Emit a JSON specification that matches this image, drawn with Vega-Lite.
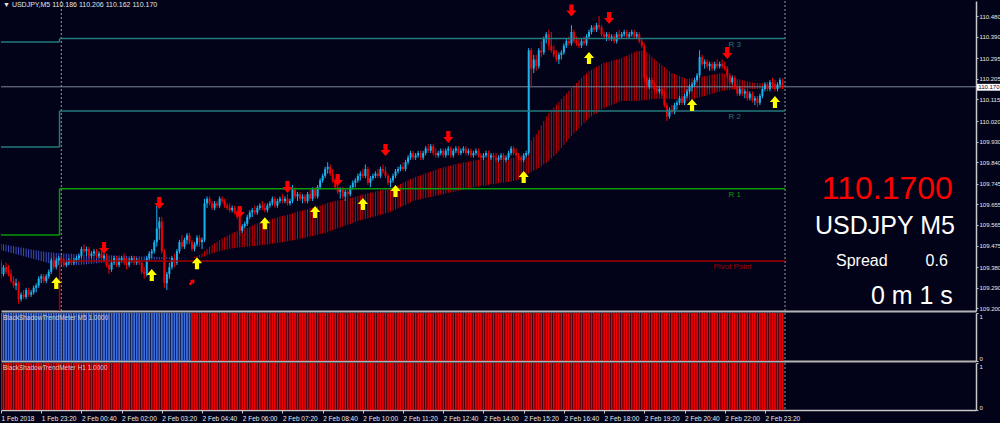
{
"$schema":"https://vega.github.io/schema/vega-lite/v6.json",
"background":"#020218",
"padding":{"left":0,"top":0,"right":0,"bottom":2},
"bounds":"flush",
"spacing":2,
"config":{"view":{"stroke":null},"font":"Liberation Sans","axis":{"labelColor":"#e8e8e8","tickColor":"#c8c8c8","domainColor":"#c8c8c8","labelFont":"Liberation Sans","labelFontSize":6,"grid":false,"labelOverlap":false}},
"datasets":{
"b":[
{"i":0,"o":109.4,"h":109.415,"l":109.33,"c":109.35,"f":109.455,"s":109.482},
{"i":1,"o":109.35,"h":109.39,"l":109.34,"c":109.38,"f":109.452,"s":109.48},
{"i":2,"o":109.38,"h":109.4,"l":109.35,"c":109.36,"f":109.449,"s":109.478},
{"i":3,"o":109.36,"h":109.39,"l":109.34,"c":109.35,"f":109.446,"s":109.476},
{"i":4,"o":109.35,"h":109.37,"l":109.31,"c":109.32,"f":109.443,"s":109.474},
{"i":5,"o":109.32,"h":109.34,"l":109.29,"c":109.3,"f":109.44,"s":109.472},
{"i":6,"o":109.3,"h":109.33,"l":109.28,"c":109.31,"f":109.437,"s":109.47},
{"i":7,"o":109.31,"h":109.32,"l":109.22,"c":109.24,"f":109.434,"s":109.468},
{"i":8,"o":109.24,"h":109.27,"l":109.23,"c":109.26,"f":109.431,"s":109.466},
{"i":9,"o":109.26,"h":109.28,"l":109.24,"c":109.25,"f":109.428,"s":109.464},
{"i":10,"o":109.25,"h":109.29,"l":109.24,"c":109.28,"f":109.425,"s":109.462},
{"i":11,"o":109.28,"h":109.29,"l":109.25,"c":109.26,"f":109.422,"s":109.46},
{"i":12,"o":109.26,"h":109.28,"l":109.25,"c":109.27,"f":109.419,"s":109.458},
{"i":13,"o":109.27,"h":109.3,"l":109.26,"c":109.29,"f":109.416,"s":109.456},
{"i":14,"o":109.29,"h":109.31,"l":109.27,"c":109.3,"f":109.413,"s":109.454},
{"i":15,"o":109.3,"h":109.34,"l":109.29,"c":109.33,"f":109.41,"s":109.452},
{"i":16,"o":109.33,"h":109.35,"l":109.31,"c":109.34,"f":109.407,"s":109.45},
{"i":17,"o":109.34,"h":109.35,"l":109.31,"c":109.32,"f":109.404,"s":109.449},
{"i":18,"o":109.32,"h":109.35,"l":109.31,"c":109.34,"f":109.401,"s":109.447},
{"i":19,"o":109.34,"h":109.37,"l":109.33,"c":109.36,"f":109.398,"s":109.446},
{"i":20,"o":109.36,"h":109.42,"l":109.35,"c":109.41,"f":109.396,"s":109.445},
{"i":21,"o":109.41,"h":109.43,"l":109.37,"c":109.38,"f":109.394,"s":109.444},
{"i":22,"o":109.38,"h":109.42,"l":109.37,"c":109.41,"f":109.392,"s":109.443},
{"i":23,"o":109.41,"h":109.43,"l":109.39,"c":109.42,"f":109.39,"s":109.442},
{"i":24,"o":109.42,"h":109.43,"l":109.39,"c":109.4,"f":109.389,"s":109.441},
{"i":25,"o":109.4,"h":109.42,"l":109.38,"c":109.39,"f":109.388,"s":109.44},
{"i":26,"o":109.39,"h":109.41,"l":109.38,"c":109.4,"f":109.388,"s":109.44},
{"i":27,"o":109.4,"h":109.42,"l":109.39,"c":109.41,"f":109.388,"s":109.439},
{"i":28,"o":109.41,"h":109.42,"l":109.39,"c":109.4,"f":109.389,"s":109.439},
{"i":29,"o":109.4,"h":109.42,"l":109.39,"c":109.41,"f":109.389,"s":109.438},
{"i":30,"o":109.41,"h":109.43,"l":109.4,"c":109.42,"f":109.39,"s":109.437},
{"i":31,"o":109.42,"h":109.44,"l":109.41,"c":109.43,"f":109.39,"s":109.437},
{"i":32,"o":109.43,"h":109.47,"l":109.42,"c":109.46,"f":109.391,"s":109.436},
{"i":33,"o":109.46,"h":109.48,"l":109.44,"c":109.45,"f":109.392,"s":109.436},
{"i":34,"o":109.45,"h":109.47,"l":109.43,"c":109.46,"f":109.393,"s":109.435},
{"i":35,"o":109.46,"h":109.47,"l":109.42,"c":109.43,"f":109.394,"s":109.435},
{"i":36,"o":109.43,"h":109.45,"l":109.42,"c":109.44,"f":109.395,"s":109.435},
{"i":37,"o":109.44,"h":109.46,"l":109.43,"c":109.45,"f":109.396,"s":109.434},
{"i":38,"o":109.45,"h":109.46,"l":109.42,"c":109.43,"f":109.397,"s":109.434},
{"i":39,"o":109.43,"h":109.45,"l":109.42,"c":109.44,"f":109.398,"s":109.433},
{"i":40,"o":109.44,"h":109.45,"l":109.4,"c":109.42,"f":109.399,"s":109.433},
{"i":41,"o":109.42,"h":109.44,"l":109.41,"c":109.43,"f":109.4,"s":109.433},
{"i":42,"o":109.43,"h":109.44,"l":109.38,"c":109.39,"f":109.401,"s":109.432},
{"i":43,"o":109.39,"h":109.4,"l":109.35,"c":109.37,"f":109.402,"s":109.432},
{"i":44,"o":109.37,"h":109.41,"l":109.36,"c":109.4,"f":109.403,"s":109.432},
{"i":45,"o":109.4,"h":109.43,"l":109.39,"c":109.42,"f":109.404,"s":109.431},
{"i":46,"o":109.42,"h":109.43,"l":109.38,"c":109.39,"f":109.405,"s":109.431},
{"i":47,"o":109.39,"h":109.42,"l":109.38,"c":109.41,"f":109.406,"s":109.431},
{"i":48,"o":109.41,"h":109.43,"l":109.4,"c":109.42,"f":109.406,"s":109.43},
{"i":49,"o":109.42,"h":109.44,"l":109.39,"c":109.4,"f":109.407,"s":109.43},
{"i":50,"o":109.4,"h":109.42,"l":109.37,"c":109.39,"f":109.408,"s":109.43},
{"i":51,"o":109.39,"h":109.42,"l":109.38,"c":109.41,"f":109.408,"s":109.429},
{"i":52,"o":109.41,"h":109.43,"l":109.4,"c":109.42,"f":109.409,"s":109.429},
{"i":53,"o":109.42,"h":109.43,"l":109.39,"c":109.4,"f":109.409,"s":109.428},
{"i":54,"o":109.4,"h":109.42,"l":109.39,"c":109.41,"f":109.41,"s":109.428},
{"i":55,"o":109.41,"h":109.42,"l":109.39,"c":109.4,"f":109.41,"s":109.428},
{"i":56,"o":109.4,"h":109.41,"l":109.35,"c":109.36,"f":109.411,"s":109.427},
{"i":57,"o":109.36,"h":109.38,"l":109.33,"c":109.35,"f":109.411,"s":109.427},
{"i":58,"o":109.35,"h":109.43,"l":109.34,"c":109.42,"f":109.412,"s":109.426},
{"i":59,"o":109.42,"h":109.45,"l":109.41,"c":109.44,"f":109.412,"s":109.426},
{"i":60,"o":109.44,"h":109.46,"l":109.42,"c":109.45,"f":109.413,"s":109.426},
{"i":61,"o":109.45,"h":109.5,"l":109.44,"c":109.49,"f":109.413,"s":109.425},
{"i":62,"o":109.49,"h":109.65,"l":109.47,"c":109.55,"f":109.414,"s":109.425},
{"i":63,"o":109.55,"h":109.6,"l":109.5,"c":109.58,"f":109.414,"s":109.425},
{"i":64,"o":109.58,"h":109.6,"l":109.44,"c":109.45,"f":109.415,"s":109.424},
{"i":65,"o":109.45,"h":109.46,"l":109.29,"c":109.31,"f":109.415,"s":109.424},
{"i":66,"o":109.31,"h":109.36,"l":109.28,"c":109.35,"f":109.416,"s":109.424},
{"i":67,"o":109.35,"h":109.4,"l":109.33,"c":109.38,"f":109.416,"s":109.423},
{"i":68,"o":109.38,"h":109.43,"l":109.37,"c":109.42,"f":109.417,"s":109.423},
{"i":69,"o":109.42,"h":109.44,"l":109.38,"c":109.4,"f":109.417,"s":109.423},
{"i":70,"o":109.4,"h":109.46,"l":109.39,"c":109.45,"f":109.418,"s":109.422},
{"i":71,"o":109.45,"h":109.5,"l":109.44,"c":109.49,"f":109.418,"s":109.422},
{"i":72,"o":109.49,"h":109.52,"l":109.46,"c":109.47,"f":109.419,"s":109.422},
{"i":73,"o":109.47,"h":109.51,"l":109.46,"c":109.5,"f":109.419,"s":109.421},
{"i":74,"o":109.5,"h":109.53,"l":109.48,"c":109.52,"f":109.42,"s":109.421},
{"i":75,"o":109.52,"h":109.53,"l":109.48,"c":109.49,"f":109.42,"s":109.421},
{"i":76,"o":109.49,"h":109.5,"l":109.45,"c":109.46,"f":109.422,"s":109.42},
{"i":77,"o":109.46,"h":109.49,"l":109.45,"c":109.48,"f":109.426,"s":109.421},
{"i":78,"o":109.48,"h":109.52,"l":109.47,"c":109.51,"f":109.43,"s":109.422},
{"i":79,"o":109.51,"h":109.52,"l":109.47,"c":109.49,"f":109.434,"s":109.423},
{"i":80,"o":109.49,"h":109.51,"l":109.46,"c":109.5,"f":109.44,"s":109.424},
{"i":81,"o":109.5,"h":109.68,"l":109.49,"c":109.66,"f":109.45,"s":109.428},
{"i":82,"o":109.66,"h":109.69,"l":109.64,"c":109.68,"f":109.46,"s":109.432},
{"i":83,"o":109.68,"h":109.69,"l":109.65,"c":109.66,"f":109.469,"s":109.436},
{"i":84,"o":109.66,"h":109.67,"l":109.63,"c":109.64,"f":109.477,"s":109.44},
{"i":85,"o":109.64,"h":109.67,"l":109.63,"c":109.66,"f":109.485,"s":109.444},
{"i":86,"o":109.66,"h":109.67,"l":109.64,"c":109.65,"f":109.492,"s":109.447},
{"i":87,"o":109.65,"h":109.69,"l":109.64,"c":109.68,"f":109.499,"s":109.45},
{"i":88,"o":109.68,"h":109.69,"l":109.66,"c":109.67,"f":109.506,"s":109.453},
{"i":89,"o":109.67,"h":109.68,"l":109.64,"c":109.65,"f":109.512,"s":109.456},
{"i":90,"o":109.65,"h":109.66,"l":109.63,"c":109.64,"f":109.518,"s":109.458},
{"i":91,"o":109.64,"h":109.66,"l":109.62,"c":109.63,"f":109.524,"s":109.46},
{"i":92,"o":109.63,"h":109.65,"l":109.62,"c":109.64,"f":109.529,"s":109.462},
{"i":93,"o":109.64,"h":109.65,"l":109.61,"c":109.62,"f":109.534,"s":109.464},
{"i":94,"o":109.62,"h":109.63,"l":109.59,"c":109.6,"f":109.538,"s":109.466},
{"i":95,"o":109.6,"h":109.61,"l":109.52,"c":109.54,"f":109.541,"s":109.467},
{"i":96,"o":109.54,"h":109.57,"l":109.53,"c":109.56,"f":109.544,"s":109.468},
{"i":97,"o":109.56,"h":109.58,"l":109.55,"c":109.57,"f":109.548,"s":109.469},
{"i":98,"o":109.57,"h":109.61,"l":109.56,"c":109.6,"f":109.552,"s":109.47},
{"i":99,"o":109.6,"h":109.63,"l":109.59,"c":109.62,"f":109.557,"s":109.471},
{"i":100,"o":109.62,"h":109.64,"l":109.6,"c":109.63,"f":109.562,"s":109.472},
{"i":101,"o":109.63,"h":109.65,"l":109.61,"c":109.62,"f":109.567,"s":109.473},
{"i":102,"o":109.62,"h":109.65,"l":109.61,"c":109.64,"f":109.572,"s":109.474},
{"i":103,"o":109.64,"h":109.66,"l":109.63,"c":109.65,"f":109.576,"s":109.475},
{"i":104,"o":109.65,"h":109.67,"l":109.63,"c":109.64,"f":109.58,"s":109.477},
{"i":105,"o":109.64,"h":109.66,"l":109.62,"c":109.63,"f":109.583,"s":109.478},
{"i":106,"o":109.63,"h":109.66,"l":109.62,"c":109.65,"f":109.586,"s":109.48},
{"i":107,"o":109.65,"h":109.67,"l":109.64,"c":109.66,"f":109.589,"s":109.481},
{"i":108,"o":109.66,"h":109.69,"l":109.65,"c":109.68,"f":109.592,"s":109.483},
{"i":109,"o":109.68,"h":109.69,"l":109.64,"c":109.65,"f":109.595,"s":109.484},
{"i":110,"o":109.65,"h":109.68,"l":109.64,"c":109.67,"f":109.598,"s":109.486},
{"i":111,"o":109.67,"h":109.69,"l":109.66,"c":109.68,"f":109.601,"s":109.488},
{"i":112,"o":109.68,"h":109.7,"l":109.66,"c":109.67,"f":109.604,"s":109.489},
{"i":113,"o":109.67,"h":109.69,"l":109.66,"c":109.68,"f":109.607,"s":109.491},
{"i":114,"o":109.68,"h":109.7,"l":109.65,"c":109.66,"f":109.61,"s":109.493},
{"i":115,"o":109.66,"h":109.68,"l":109.65,"c":109.67,"f":109.613,"s":109.495},
{"i":116,"o":109.67,"h":109.74,"l":109.66,"c":109.72,"f":109.617,"s":109.497},
{"i":117,"o":109.72,"h":109.73,"l":109.68,"c":109.69,"f":109.62,"s":109.499},
{"i":118,"o":109.69,"h":109.71,"l":109.67,"c":109.7,"f":109.623,"s":109.502},
{"i":119,"o":109.7,"h":109.71,"l":109.67,"c":109.68,"f":109.626,"s":109.504},
{"i":120,"o":109.68,"h":109.7,"l":109.66,"c":109.69,"f":109.629,"s":109.507},
{"i":121,"o":109.69,"h":109.7,"l":109.66,"c":109.67,"f":109.632,"s":109.509},
{"i":122,"o":109.67,"h":109.71,"l":109.66,"c":109.7,"f":109.635,"s":109.512},
{"i":123,"o":109.7,"h":109.72,"l":109.67,"c":109.68,"f":109.638,"s":109.514},
{"i":124,"o":109.68,"h":109.73,"l":109.67,"c":109.72,"f":109.641,"s":109.517},
{"i":125,"o":109.72,"h":109.73,"l":109.68,"c":109.69,"f":109.644,"s":109.52},
{"i":126,"o":109.69,"h":109.74,"l":109.68,"c":109.73,"f":109.647,"s":109.522},
{"i":127,"o":109.73,"h":109.77,"l":109.72,"c":109.76,"f":109.65,"s":109.525},
{"i":128,"o":109.76,"h":109.79,"l":109.75,"c":109.78,"f":109.653,"s":109.527},
{"i":129,"o":109.78,"h":109.82,"l":109.77,"c":109.81,"f":109.657,"s":109.53},
{"i":130,"o":109.81,"h":109.84,"l":109.79,"c":109.82,"f":109.661,"s":109.534},
{"i":131,"o":109.82,"h":109.83,"l":109.78,"c":109.79,"f":109.665,"s":109.538},
{"i":132,"o":109.79,"h":109.81,"l":109.75,"c":109.76,"f":109.668,"s":109.542},
{"i":133,"o":109.76,"h":109.77,"l":109.72,"c":109.73,"f":109.67,"s":109.546},
{"i":134,"o":109.73,"h":109.74,"l":109.7,"c":109.71,"f":109.672,"s":109.55},
{"i":135,"o":109.71,"h":109.73,"l":109.68,"c":109.72,"f":109.674,"s":109.554},
{"i":136,"o":109.72,"h":109.73,"l":109.68,"c":109.69,"f":109.676,"s":109.558},
{"i":137,"o":109.69,"h":109.72,"l":109.67,"c":109.71,"f":109.678,"s":109.562},
{"i":138,"o":109.71,"h":109.72,"l":109.68,"c":109.7,"f":109.68,"s":109.566},
{"i":139,"o":109.7,"h":109.74,"l":109.69,"c":109.73,"f":109.683,"s":109.57},
{"i":140,"o":109.73,"h":109.76,"l":109.72,"c":109.75,"f":109.686,"s":109.574},
{"i":141,"o":109.75,"h":109.77,"l":109.73,"c":109.76,"f":109.689,"s":109.578},
{"i":142,"o":109.76,"h":109.79,"l":109.75,"c":109.78,"f":109.692,"s":109.582},
{"i":143,"o":109.78,"h":109.8,"l":109.76,"c":109.79,"f":109.695,"s":109.585},
{"i":144,"o":109.79,"h":109.81,"l":109.77,"c":109.78,"f":109.698,"s":109.588},
{"i":145,"o":109.78,"h":109.83,"l":109.77,"c":109.81,"f":109.701,"s":109.591},
{"i":146,"o":109.81,"h":109.82,"l":109.74,"c":109.75,"f":109.704,"s":109.594},
{"i":147,"o":109.75,"h":109.78,"l":109.73,"c":109.77,"f":109.706,"s":109.597},
{"i":148,"o":109.77,"h":109.79,"l":109.76,"c":109.78,"f":109.708,"s":109.6},
{"i":149,"o":109.78,"h":109.8,"l":109.77,"c":109.79,"f":109.711,"s":109.603},
{"i":150,"o":109.79,"h":109.81,"l":109.77,"c":109.78,"f":109.714,"s":109.606},
{"i":151,"o":109.78,"h":109.82,"l":109.77,"c":109.81,"f":109.717,"s":109.609},
{"i":152,"o":109.81,"h":109.83,"l":109.79,"c":109.8,"f":109.719,"s":109.612},
{"i":153,"o":109.8,"h":109.82,"l":109.77,"c":109.78,"f":109.721,"s":109.615},
{"i":154,"o":109.78,"h":109.79,"l":109.74,"c":109.75,"f":109.723,"s":109.618},
{"i":155,"o":109.75,"h":109.77,"l":109.73,"c":109.76,"f":109.726,"s":109.623},
{"i":156,"o":109.76,"h":109.79,"l":109.75,"c":109.78,"f":109.73,"s":109.628},
{"i":157,"o":109.78,"h":109.81,"l":109.77,"c":109.8,"f":109.735,"s":109.633},
{"i":158,"o":109.8,"h":109.82,"l":109.79,"c":109.81,"f":109.74,"s":109.638},
{"i":159,"o":109.81,"h":109.83,"l":109.8,"c":109.82,"f":109.745,"s":109.643},
{"i":160,"o":109.82,"h":109.84,"l":109.8,"c":109.81,"f":109.75,"s":109.648},
{"i":161,"o":109.81,"h":109.85,"l":109.8,"c":109.84,"f":109.755,"s":109.653},
{"i":162,"o":109.84,"h":109.87,"l":109.83,"c":109.86,"f":109.76,"s":109.658},
{"i":163,"o":109.86,"h":109.89,"l":109.85,"c":109.88,"f":109.766,"s":109.664},
{"i":164,"o":109.88,"h":109.89,"l":109.85,"c":109.86,"f":109.771,"s":109.67},
{"i":165,"o":109.86,"h":109.88,"l":109.85,"c":109.87,"f":109.775,"s":109.673},
{"i":166,"o":109.87,"h":109.89,"l":109.86,"c":109.88,"f":109.779,"s":109.675},
{"i":167,"o":109.88,"h":109.89,"l":109.85,"c":109.86,"f":109.783,"s":109.678},
{"i":168,"o":109.86,"h":109.89,"l":109.85,"c":109.88,"f":109.787,"s":109.68},
{"i":169,"o":109.88,"h":109.91,"l":109.87,"c":109.9,"f":109.791,"s":109.683},
{"i":170,"o":109.9,"h":109.92,"l":109.88,"c":109.89,"f":109.795,"s":109.685},
{"i":171,"o":109.89,"h":109.92,"l":109.88,"c":109.91,"f":109.799,"s":109.688},
{"i":172,"o":109.91,"h":109.92,"l":109.87,"c":109.88,"f":109.803,"s":109.69},
{"i":173,"o":109.88,"h":109.9,"l":109.86,"c":109.87,"f":109.807,"s":109.693},
{"i":174,"o":109.87,"h":109.89,"l":109.86,"c":109.88,"f":109.811,"s":109.695},
{"i":175,"o":109.88,"h":109.9,"l":109.87,"c":109.89,"f":109.814,"s":109.698},
{"i":176,"o":109.89,"h":109.9,"l":109.86,"c":109.87,"f":109.817,"s":109.7},
{"i":177,"o":109.87,"h":109.9,"l":109.86,"c":109.89,"f":109.82,"s":109.703},
{"i":178,"o":109.89,"h":109.91,"l":109.87,"c":109.9,"f":109.823,"s":109.705},
{"i":179,"o":109.9,"h":109.91,"l":109.86,"c":109.87,"f":109.826,"s":109.708},
{"i":180,"o":109.87,"h":109.9,"l":109.86,"c":109.89,"f":109.829,"s":109.71},
{"i":181,"o":109.89,"h":109.91,"l":109.88,"c":109.9,"f":109.831,"s":109.712},
{"i":182,"o":109.9,"h":109.91,"l":109.87,"c":109.88,"f":109.834,"s":109.715},
{"i":183,"o":109.88,"h":109.9,"l":109.87,"c":109.89,"f":109.836,"s":109.717},
{"i":184,"o":109.89,"h":109.91,"l":109.88,"c":109.9,"f":109.839,"s":109.719},
{"i":185,"o":109.9,"h":109.91,"l":109.87,"c":109.88,"f":109.841,"s":109.722},
{"i":186,"o":109.88,"h":109.9,"l":109.87,"c":109.89,"f":109.843,"s":109.724},
{"i":187,"o":109.89,"h":109.9,"l":109.86,"c":109.87,"f":109.845,"s":109.726},
{"i":188,"o":109.87,"h":109.89,"l":109.86,"c":109.88,"f":109.847,"s":109.729},
{"i":189,"o":109.88,"h":109.9,"l":109.87,"c":109.89,"f":109.849,"s":109.731},
{"i":190,"o":109.89,"h":109.9,"l":109.86,"c":109.87,"f":109.851,"s":109.733},
{"i":191,"o":109.87,"h":109.88,"l":109.85,"c":109.86,"f":109.853,"s":109.736},
{"i":192,"o":109.86,"h":109.88,"l":109.85,"c":109.87,"f":109.854,"s":109.738},
{"i":193,"o":109.87,"h":109.89,"l":109.86,"c":109.88,"f":109.855,"s":109.739},
{"i":194,"o":109.88,"h":109.89,"l":109.85,"c":109.86,"f":109.855,"s":109.741},
{"i":195,"o":109.86,"h":109.88,"l":109.85,"c":109.87,"f":109.856,"s":109.743},
{"i":196,"o":109.87,"h":109.88,"l":109.85,"c":109.86,"f":109.856,"s":109.744},
{"i":197,"o":109.86,"h":109.88,"l":109.84,"c":109.85,"f":109.856,"s":109.746},
{"i":198,"o":109.85,"h":109.87,"l":109.84,"c":109.86,"f":109.857,"s":109.748},
{"i":199,"o":109.86,"h":109.88,"l":109.85,"c":109.87,"f":109.857,"s":109.749},
{"i":200,"o":109.87,"h":109.88,"l":109.84,"c":109.85,"f":109.857,"s":109.751},
{"i":201,"o":109.85,"h":109.87,"l":109.84,"c":109.86,"f":109.858,"s":109.752},
{"i":202,"o":109.86,"h":109.89,"l":109.85,"c":109.88,"f":109.858,"s":109.754},
{"i":203,"o":109.88,"h":109.91,"l":109.87,"c":109.9,"f":109.858,"s":109.755},
{"i":204,"o":109.9,"h":109.91,"l":109.87,"c":109.88,"f":109.859,"s":109.757},
{"i":205,"o":109.88,"h":109.9,"l":109.86,"c":109.87,"f":109.86,"s":109.76},
{"i":206,"o":109.87,"h":109.88,"l":109.85,"c":109.86,"f":109.861,"s":109.764},
{"i":207,"o":109.86,"h":109.87,"l":109.84,"c":109.85,"f":109.862,"s":109.768},
{"i":208,"o":109.85,"h":109.88,"l":109.84,"c":109.87,"f":109.863,"s":109.773},
{"i":209,"o":109.87,"h":109.89,"l":109.86,"c":109.88,"f":109.865,"s":109.78},
{"i":210,"o":109.88,"h":110.34,"l":109.87,"c":110.33,"f":109.905,"s":109.79},
{"i":211,"o":110.33,"h":110.34,"l":110.17,"c":110.25,"f":109.935,"s":109.798},
{"i":212,"o":110.25,"h":110.31,"l":110.23,"c":110.29,"f":109.95,"s":109.803},
{"i":213,"o":110.29,"h":110.31,"l":110.24,"c":110.26,"f":109.962,"s":109.808},
{"i":214,"o":110.26,"h":110.34,"l":110.25,"c":110.33,"f":109.98,"s":109.814},
{"i":215,"o":110.33,"h":110.37,"l":110.3,"c":110.32,"f":110.0,"s":109.822},
{"i":216,"o":110.32,"h":110.39,"l":110.31,"c":110.38,"f":110.02,"s":109.83},
{"i":217,"o":110.38,"h":110.41,"l":110.36,"c":110.4,"f":110.04,"s":109.838},
{"i":218,"o":110.4,"h":110.42,"l":110.33,"c":110.35,"f":110.055,"s":109.845},
{"i":219,"o":110.35,"h":110.41,"l":110.32,"c":110.33,"f":110.068,"s":109.856},
{"i":220,"o":110.33,"h":110.35,"l":110.3,"c":110.31,"f":110.08,"s":109.867},
{"i":221,"o":110.31,"h":110.33,"l":110.28,"c":110.29,"f":110.092,"s":109.878},
{"i":222,"o":110.29,"h":110.32,"l":110.27,"c":110.31,"f":110.104,"s":109.889},
{"i":223,"o":110.31,"h":110.33,"l":110.29,"c":110.32,"f":110.117,"s":109.902},
{"i":224,"o":110.32,"h":110.36,"l":110.31,"c":110.35,"f":110.129,"s":109.915},
{"i":225,"o":110.35,"h":110.38,"l":110.34,"c":110.37,"f":110.141,"s":109.928},
{"i":226,"o":110.37,"h":110.39,"l":110.35,"c":110.36,"f":110.153,"s":109.942},
{"i":227,"o":110.36,"h":110.44,"l":110.35,"c":110.41,"f":110.165,"s":109.955},
{"i":228,"o":110.41,"h":110.42,"l":110.36,"c":110.37,"f":110.176,"s":109.966},
{"i":229,"o":110.37,"h":110.39,"l":110.35,"c":110.36,"f":110.187,"s":109.977},
{"i":230,"o":110.36,"h":110.38,"l":110.34,"c":110.35,"f":110.198,"s":109.988},
{"i":231,"o":110.35,"h":110.38,"l":110.34,"c":110.37,"f":110.209,"s":109.999},
{"i":232,"o":110.37,"h":110.39,"l":110.35,"c":110.36,"f":110.219,"s":110.011},
{"i":233,"o":110.36,"h":110.4,"l":110.35,"c":110.39,"f":110.229,"s":110.022},
{"i":234,"o":110.39,"h":110.42,"l":110.38,"c":110.41,"f":110.239,"s":110.033},
{"i":235,"o":110.41,"h":110.44,"l":110.4,"c":110.43,"f":110.245,"s":110.04},
{"i":236,"o":110.43,"h":110.44,"l":110.41,"c":110.42,"f":110.251,"s":110.048},
{"i":237,"o":110.42,"h":110.45,"l":110.41,"c":110.44,"f":110.257,"s":110.055},
{"i":238,"o":110.44,"h":110.48,"l":110.42,"c":110.43,"f":110.263,"s":110.062},
{"i":239,"o":110.43,"h":110.44,"l":110.39,"c":110.4,"f":110.269,"s":110.07},
{"i":240,"o":110.4,"h":110.41,"l":110.38,"c":110.39,"f":110.274,"s":110.077},
{"i":241,"o":110.39,"h":110.41,"l":110.37,"c":110.4,"f":110.277,"s":110.081},
{"i":242,"o":110.4,"h":110.41,"l":110.37,"c":110.38,"f":110.28,"s":110.086},
{"i":243,"o":110.38,"h":110.4,"l":110.37,"c":110.39,"f":110.284,"s":110.09},
{"i":244,"o":110.39,"h":110.4,"l":110.36,"c":110.37,"f":110.287,"s":110.095},
{"i":245,"o":110.37,"h":110.41,"l":110.36,"c":110.4,"f":110.29,"s":110.099},
{"i":246,"o":110.4,"h":110.42,"l":110.38,"c":110.39,"f":110.293,"s":110.104},
{"i":247,"o":110.39,"h":110.41,"l":110.38,"c":110.4,"f":110.296,"s":110.108},
{"i":248,"o":110.4,"h":110.42,"l":110.39,"c":110.41,"f":110.301,"s":110.108},
{"i":249,"o":110.41,"h":110.42,"l":110.38,"c":110.39,"f":110.306,"s":110.108},
{"i":250,"o":110.39,"h":110.41,"l":110.38,"c":110.4,"f":110.311,"s":110.108},
{"i":251,"o":110.4,"h":110.42,"l":110.39,"c":110.41,"f":110.316,"s":110.108},
{"i":252,"o":110.41,"h":110.42,"l":110.38,"c":110.39,"f":110.322,"s":110.108},
{"i":253,"o":110.39,"h":110.41,"l":110.38,"c":110.4,"f":110.327,"s":110.108},
{"i":254,"o":110.4,"h":110.41,"l":110.36,"c":110.37,"f":110.328,"s":110.109},
{"i":255,"o":110.37,"h":110.38,"l":110.34,"c":110.35,"f":110.328,"s":110.11},
{"i":256,"o":110.35,"h":110.36,"l":110.19,"c":110.21,"f":110.327,"s":110.111},
{"i":257,"o":110.21,"h":110.22,"l":110.16,"c":110.17,"f":110.322,"s":110.112},
{"i":258,"o":110.17,"h":110.21,"l":110.16,"c":110.2,"f":110.312,"s":110.114},
{"i":259,"o":110.2,"h":110.21,"l":110.17,"c":110.18,"f":110.302,"s":110.115},
{"i":260,"o":110.18,"h":110.19,"l":110.15,"c":110.16,"f":110.292,"s":110.117},
{"i":261,"o":110.16,"h":110.17,"l":110.14,"c":110.15,"f":110.283,"s":110.117},
{"i":262,"o":110.15,"h":110.17,"l":110.14,"c":110.16,"f":110.274,"s":110.117},
{"i":263,"o":110.16,"h":110.17,"l":110.13,"c":110.14,"f":110.265,"s":110.117},
{"i":264,"o":110.14,"h":110.15,"l":110.08,"c":110.09,"f":110.256,"s":110.117},
{"i":265,"o":110.09,"h":110.1,"l":110.02,"c":110.04,"f":110.247,"s":110.117},
{"i":266,"o":110.04,"h":110.08,"l":110.03,"c":110.07,"f":110.238,"s":110.117},
{"i":267,"o":110.07,"h":110.09,"l":110.05,"c":110.06,"f":110.23,"s":110.117},
{"i":268,"o":110.06,"h":110.1,"l":110.05,"c":110.09,"f":110.226,"s":110.116},
{"i":269,"o":110.09,"h":110.11,"l":110.07,"c":110.1,"f":110.222,"s":110.114},
{"i":270,"o":110.1,"h":110.13,"l":110.09,"c":110.12,"f":110.217,"s":110.113},
{"i":271,"o":110.12,"h":110.13,"l":110.09,"c":110.1,"f":110.213,"s":110.111},
{"i":272,"o":110.1,"h":110.14,"l":110.09,"c":110.13,"f":110.208,"s":110.11},
{"i":273,"o":110.13,"h":110.16,"l":110.12,"c":110.15,"f":110.204,"s":110.108},
{"i":274,"o":110.15,"h":110.18,"l":110.14,"c":110.17,"f":110.206,"s":110.111},
{"i":275,"o":110.17,"h":110.19,"l":110.15,"c":110.18,"f":110.208,"s":110.114},
{"i":276,"o":110.18,"h":110.21,"l":110.17,"c":110.2,"f":110.21,"s":110.117},
{"i":277,"o":110.2,"h":110.23,"l":110.19,"c":110.22,"f":110.212,"s":110.121},
{"i":278,"o":110.22,"h":110.33,"l":110.21,"c":110.3,"f":110.214,"s":110.124},
{"i":279,"o":110.3,"h":110.31,"l":110.26,"c":110.27,"f":110.216,"s":110.127},
{"i":280,"o":110.27,"h":110.29,"l":110.25,"c":110.28,"f":110.217,"s":110.13},
{"i":281,"o":110.28,"h":110.29,"l":110.25,"c":110.26,"f":110.219,"s":110.133},
{"i":282,"o":110.26,"h":110.28,"l":110.24,"c":110.27,"f":110.221,"s":110.136},
{"i":283,"o":110.27,"h":110.28,"l":110.24,"c":110.25,"f":110.223,"s":110.139},
{"i":284,"o":110.25,"h":110.28,"l":110.24,"c":110.27,"f":110.225,"s":110.143},
{"i":285,"o":110.27,"h":110.29,"l":110.25,"c":110.26,"f":110.227,"s":110.146},
{"i":286,"o":110.26,"h":110.28,"l":110.25,"c":110.27,"f":110.229,"s":110.149},
{"i":287,"o":110.27,"h":110.29,"l":110.25,"c":110.26,"f":110.23,"s":110.152},
{"i":288,"o":110.26,"h":110.28,"l":110.24,"c":110.25,"f":110.226,"s":110.153},
{"i":289,"o":110.25,"h":110.26,"l":110.21,"c":110.22,"f":110.221,"s":110.155},
{"i":290,"o":110.22,"h":110.23,"l":110.18,"c":110.19,"f":110.217,"s":110.156},
{"i":291,"o":110.19,"h":110.22,"l":110.18,"c":110.21,"f":110.213,"s":110.157},
{"i":292,"o":110.21,"h":110.22,"l":110.16,"c":110.17,"f":110.208,"s":110.159},
{"i":293,"o":110.17,"h":110.18,"l":110.13,"c":110.14,"f":110.204,"s":110.16},
{"i":294,"o":110.14,"h":110.17,"l":110.13,"c":110.16,"f":110.202,"s":110.16},
{"i":295,"o":110.16,"h":110.17,"l":110.13,"c":110.14,"f":110.199,"s":110.16},
{"i":296,"o":110.14,"h":110.16,"l":110.12,"c":110.15,"f":110.197,"s":110.16},
{"i":297,"o":110.15,"h":110.16,"l":110.11,"c":110.12,"f":110.194,"s":110.16},
{"i":298,"o":110.12,"h":110.15,"l":110.11,"c":110.14,"f":110.192,"s":110.16},
{"i":299,"o":110.14,"h":110.15,"l":110.1,"c":110.11,"f":110.189,"s":110.16},
{"i":300,"o":110.11,"h":110.13,"l":110.09,"c":110.12,"f":110.187,"s":110.16},
{"i":301,"o":110.12,"h":110.13,"l":110.08,"c":110.1,"f":110.187,"s":110.16},
{"i":302,"o":110.1,"h":110.14,"l":110.09,"c":110.13,"f":110.186,"s":110.16},
{"i":303,"o":110.13,"h":110.17,"l":110.12,"c":110.16,"f":110.186,"s":110.16},
{"i":304,"o":110.16,"h":110.19,"l":110.15,"c":110.18,"f":110.185,"s":110.16},
{"i":305,"o":110.18,"h":110.19,"l":110.15,"c":110.16,"f":110.185,"s":110.16},
{"i":306,"o":110.16,"h":110.2,"l":110.15,"c":110.19,"f":110.184,"s":110.16},
{"i":307,"o":110.19,"h":110.21,"l":110.17,"c":110.18,"f":110.184,"s":110.16},
{"i":308,"o":110.18,"h":110.2,"l":110.15,"c":110.16,"f":110.183,"s":110.16},
{"i":309,"o":110.16,"h":110.19,"l":110.15,"c":110.18,"f":110.183,"s":110.16},
{"i":310,"o":110.18,"h":110.21,"l":110.17,"c":110.2,"f":110.182,"s":110.16},
{"i":311,"o":110.186,"h":110.206,"l":110.162,"c":110.17,"f":110.182,"s":110.16}
],
"up":[{"i":22,"p":109.311},{"i":60,"p":109.346},{"i":78,"p":109.398},{"i":105,"p":109.573},{"i":125,"p":109.622},{"i":144,"p":109.657},{"i":157,"p":109.714},{"i":208,"p":109.775},{"i":234,"p":110.296},{"i":275,"p":110.09},{"i":308,"p":110.103}],
"dn":[{"i":41,"p":109.464},{"i":63,"p":109.661},{"i":95,"p":109.622},{"i":114,"p":109.731},{"i":134,"p":109.762},{"i":153,"p":109.893},{"i":178,"p":109.95},{"i":227,"p":110.504},{"i":242,"p":110.471},{"i":289,"p":110.318}],
"lv":[{"a":0,"b":23.3,"p":110.366,"k":"t"},{"a":23.3,"b":312,"p":110.381,"k":"t"},{"a":0,"b":23.3,"p":109.906,"k":"t"},{"a":23.3,"b":312,"p":110.064,"k":"t"},{"a":0,"b":23.3,"p":109.521,"k":"g"},{"a":23.3,"b":312,"p":109.724,"k":"g"},{"a":23.3,"b":312,"p":109.407,"k":"r"}],
"lc":[{"p":110.366,"q":110.381,"k":"t"},{"p":109.906,"q":110.064,"k":"t"},{"p":109.521,"q":109.724,"k":"g"},{"p":109.0,"q":109.407,"k":"r"}],
"ll":[{"i":289.5,"p":110.381,"t":"R 3","k":"t"},{"i":289.5,"p":110.064,"t":"R 2","k":"t"},{"i":289.5,"p":109.724,"t":"R 1","k":"g"},{"i":283.5,"p":109.407,"t":"Pivot Point","k":"r"}],
"sep":[{"i":24},{"i":312}]
},
"vconcat":[
{
"width":975,"height":310,
"resolve":{"axis":{"x":"independent","y":"independent"}},
"layer":[
{"data":{"name":"b"},"mark":{"type":"rule","strokeWidth":1,"clip":true},
 "encoding":{
  "x":{"field":"i","type":"quantitative","title":null,"scale":{"domain":[0,388],"nice":false},"axis":{"orient":"bottom","labels":false,"ticks":false,"domain":true,"domainColor":"#b4b4b4","domainWidth":2,"title":null}},
  "y":{"field":"f","type":"quantitative","title":null,"scale":{"domain":[109.1884,110.5457],"nice":false,"zero":false},"axis":{"orient":"right","values":[110.48,110.39,110.295,110.205,110.115,110.02,109.93,109.84,109.745,109.655,109.565,109.475,109.38,109.29,109.2],"format":".3f","tickSize":2,"labelPadding":1,"labelFontSize":6,"domainWidth":1.5,"title":null,"labelOverlap":false,"labelBound":false,"labelSeparation":0}},
  "y2":{"field":"s"},
  "color":{"condition":{"test":"datum.f < datum.s","value":"#3f50c4"},"value":"#d20000"}}},
{"data":{"name":"sep"},"mark":{"type":"rule","strokeDash":[2,2],"color":"#9a9a9a","strokeWidth":1},
 "encoding":{"x":{"field":"i","type":"quantitative","axis":null}}},
{"data":{"values":[{}]},"mark":{"type":"rule","color":"#7c879c","strokeWidth":1},
 "encoding":{"y":{"datum":110.17,"axis":null}}},
{"data":{"name":"b"},"mark":{"type":"rule","strokeWidth":1,"clip":true},
 "encoding":{
  "x":{"field":"i","type":"quantitative","axis":null},
  "y":{"field":"l","type":"quantitative","axis":null},"y2":{"field":"h"},
  "color":{"condition":{"test":"datum.c >= datum.o","value":"#18b4f0"},"value":"#f00000"}}},
{"data":{"name":"b"},"mark":{"type":"rule","strokeWidth":2,"clip":true},
 "encoding":{
  "x":{"field":"i","type":"quantitative","axis":null},
  "y":{"field":"o","type":"quantitative","axis":null},"y2":{"field":"c"},
  "color":{"condition":{"test":"datum.c >= datum.o","value":"#18b4f0"},"value":"#f00000"}}},
{"data":{"name":"lv"},"mark":{"type":"rule","strokeWidth":1.5,"clip":true},
 "encoding":{
  "x":{"field":"a","type":"quantitative","axis":null},"x2":{"field":"b"},
  "y":{"field":"p","type":"quantitative","axis":null},
  "color":{"field":"k","type":"nominal","scale":{"domain":["t","g","r"],"range":["#247a7c","#0a9a0a","#a00000"]},"legend":null}}},
{"data":{"name":"lc"},"mark":{"type":"rule","strokeWidth":1.5,"clip":true},
 "encoding":{
  "x":{"datum":23.3,"axis":null},
  "y":{"field":"p","type":"quantitative","axis":null},"y2":{"field":"q"},
  "color":{"field":"k","type":"nominal","legend":null}}},
{"data":{"name":"ll"},"mark":{"type":"text","align":"left","baseline":"top","dy":2,"fontSize":8,"clip":true},
 "encoding":{
  "x":{"field":"i","type":"quantitative","axis":null},
  "y":{"field":"p","type":"quantitative","axis":null},
  "text":{"field":"t"},
  "color":{"field":"k","type":"nominal","legend":null}}},
{"data":{"name":"up"},"mark":{"type":"point","filled":true,"opacity":1,"size":144,"strokeWidth":0,"color":"#ffff00","shape":"M-0.35,1L0.35,1L0.35,0L0.85,0L0,-1L-0.85,0L-0.35,0Z","clip":true},
 "encoding":{
  "x":{"field":"i","type":"quantitative","axis":null},
  "y":{"field":"p","type":"quantitative","axis":null}}},
{"data":{"name":"dn"},"mark":{"type":"point","filled":true,"opacity":1,"size":144,"strokeWidth":0,"color":"#ff0000","shape":"M-0.35,-1L0.35,-1L0.35,0L0.85,0L0,1L-0.85,0L-0.35,0Z","clip":true},
 "encoding":{
  "x":{"field":"i","type":"quantitative","axis":null},
  "y":{"field":"p","type":"quantitative","axis":null}}},
{"data":{"values":[{"i":76,"p":109.315}]},"mark":{"type":"point","filled":true,"opacity":1,"size":49,"angle":45,"strokeWidth":0,"color":"#ff0000","shape":"M-0.35,1L0.35,1L0.35,0L0.85,0L0,-1L-0.85,0L-0.35,0Z","clip":true},
 "encoding":{
  "x":{"field":"i","type":"quantitative","axis":null},
  "y":{"field":"p","type":"quantitative","axis":null}}},
{"data":{"values":[{}]},"mark":{"type":"text","text":"▼ USDJPY,M5  110.186 110.206 110.162 110.170","align":"left","baseline":"middle","fontSize":7,"color":"#e4e4e4"},
 "encoding":{"x":{"datum":0.8,"axis":null},"y":{"datum":110.526,"axis":null}}},
{"data":{"values":[{}]},"mark":{"type":"text","text":"110.1700","align":"right","baseline":"alphabetic","fontSize":32,"color":"#ff0000"},
 "encoding":{"x":{"datum":378.8,"axis":null},"y":{"datum":109.679,"axis":null}}},
{"data":{"values":[{}]},"mark":{"type":"text","text":"USDJPY  M5","align":"right","baseline":"alphabetic","fontSize":25,"color":"#ffffff"},
 "encoding":{"x":{"datum":379.6,"axis":null},"y":{"datum":109.525,"axis":null}}},
{"data":{"values":[{}]},"mark":{"type":"text","text":"Spread","align":"left","baseline":"alphabetic","fontSize":16,"color":"#ffffff"},
 "encoding":{"x":{"datum":332.3,"axis":null},"y":{"datum":109.385,"axis":null}}},
{"data":{"values":[{}]},"mark":{"type":"text","text":"0.6","align":"right","baseline":"alphabetic","fontSize":16,"color":"#ffffff"},
 "encoding":{"x":{"datum":376.8,"axis":null},"y":{"datum":109.385,"axis":null}}},
{"data":{"values":[{}]},"mark":{"type":"text","text":"0 m 1 s","align":"right","baseline":"alphabetic","fontSize":25,"color":"#ffffff"},
 "encoding":{"x":{"datum":378.8,"axis":null},"y":{"datum":109.219,"axis":null}}},
{"data":{"values":[{}]},"mark":{"type":"rect","color":"#ffffff"},
 "encoding":{"x":{"datum":388.4,"axis":null},"x2":{"datum":398},"y":{"datum":110.183,"axis":null},"y2":{"datum":110.153}}},
{"data":{"values":[{}]},"mark":{"type":"text","text":"110.170","align":"left","baseline":"middle","fontSize":6,"color":"#000040"},
 "encoding":{"x":{"datum":388.9,"axis":null},"y":{"datum":110.168,"axis":null}}}
]
},
{
"width":975,"height":48,
"resolve":{"axis":{"x":"independent","y":"independent"}},
"layer":[
{"data":{"name":"sep"},"mark":{"type":"rule","strokeDash":[2,2],"color":"#9a9a9a","strokeWidth":1},
 "encoding":{"x":{"field":"i","type":"quantitative","title":null,"scale":{"domain":[0,388],"nice":false},"axis":{"orient":"bottom","labels":false,"ticks":false,"domain":true,"domainColor":"#b4b4b4","domainWidth":2,"title":null}}}},
{"data":{"name":"b"},"mark":{"type":"rule","strokeWidth":1.8,"clip":true},
 "encoding":{
  "x":{"field":"i","type":"quantitative","axis":null},
  "y":{"datum":0,"type":"quantitative","title":null,"scale":{"domain":[0,1],"nice":false},"axis":{"orient":"right","values":[0,1],"format":"d","labelFlush":true,"tickSize":2,"labelPadding":1,"domainWidth":1.5,"title":null}},
  "y2":{"datum":1},
  "color":{"condition":{"test":"datum.f < datum.s","value":"#3e6fe0"},"value":"#f00000"}}},
{"data":{"values":[{}]},"mark":{"type":"text","text":"BlackShadowTrendMeter M5 1.0000","align":"left","baseline":"top","dy":2,"fontSize":6.5,"color":"#d0d0d0"},
 "encoding":{"x":{"datum":0.8,"axis":null},"y":{"datum":1,"axis":null}}}
]
},
{
"width":975,"height":47,
"resolve":{"axis":{"x":"independent","y":"independent"}},
"layer":[
{"data":{"name":"sep"},"mark":{"type":"rule","strokeDash":[2,2],"color":"#9a9a9a","strokeWidth":1},
 "encoding":{"x":{"field":"i","type":"quantitative","title":null,"scale":{"domain":[0,388],"nice":false},"axis":{"orient":"bottom","values":[0,16,32,48,64,80,96,112,128,144,160,176,192,208,224,240,256,272,288,304],"labelExpr":"datum.value == 0 ? '1 Feb 2018' : utcFormat(1517522400000 + datum.value * 300000, '%-d %b %H:%M')","labelAlign":"left","labelFontSize":6.5,"labelPadding":2,"tickSize":3,"labelOverlap":false,"labelFlush":false,"domain":true,"domainColor":"#c8c8c8","domainWidth":1.5,"title":null}}}},
{"data":{"name":"b"},"mark":{"type":"rule","strokeWidth":1.8,"color":"#f00000","clip":true},
 "encoding":{
  "x":{"field":"i","type":"quantitative","axis":null},
  "y":{"datum":0,"type":"quantitative","title":null,"scale":{"domain":[0,1],"nice":false},"axis":{"orient":"right","values":[0,1],"format":"d","labelFlush":true,"tickSize":2,"labelPadding":1,"domainWidth":1.5,"title":null}},
  "y2":{"datum":1}}},
{"data":{"values":[{}]},"mark":{"type":"text","text":"BlackShadowTrendMeter H1 1.0000","align":"left","baseline":"top","dy":2,"fontSize":6.5,"color":"#d0d0d0"},
 "encoding":{"x":{"datum":0.8,"axis":null},"y":{"datum":1,"axis":null}}}
]
}
]
}
